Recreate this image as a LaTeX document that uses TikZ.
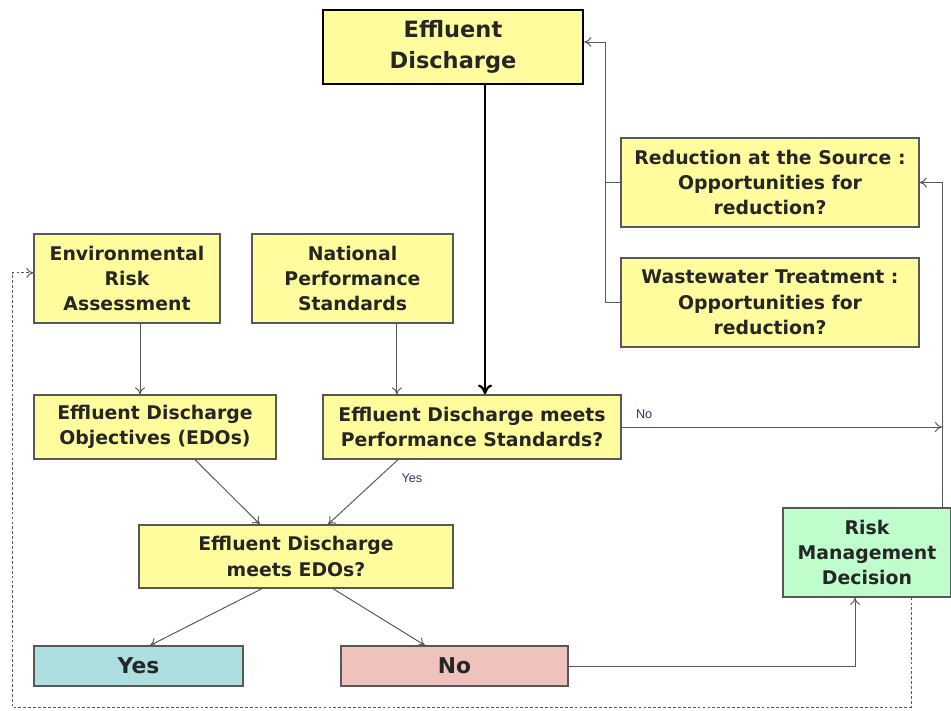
\documentclass[tikz,border=0pt]{standalone}
\usepackage{fontspec}
\setmainfont{DejaVu Sans}
\newfontfamily\lblfont{Liberation Sans}
\usetikzlibrary{arrows.meta}

\definecolor{boxyellow}{HTML}{FFFC9E}
\definecolor{boxcyan}{HTML}{ADDFE1}
\definecolor{boxpink}{HTML}{F0C2BD}
\definecolor{boxgreen}{HTML}{BFFDCD}
\definecolor{linegray}{HTML}{585858}
\definecolor{lblblue}{HTML}{33336A}

\tikzset{
  box/.style={draw=linegray, line width=0.9pt, fill=boxyellow, align=center,
    inner sep=0pt, text=black!85, font=\fontsize{13.4}{18}\selectfont\bfseries},
  conn/.style={draw=linegray, line width=0.7pt, -{To[length=5pt,width=7pt]}},
  lbl/.style={font=\lblfont\fontsize{9}{10}\selectfont, text=lblblue}
}

\begin{document}
\begin{tikzpicture}[x=0.025cm,y=-0.025cm]
    \useasboundingbox (0,0) rectangle (951,710);
    % Boxes
    \node[box, draw=black, line width=1.8pt, minimum width=6.5cm, minimum height=1.85cm,
      font=\fontsize{16}{22}\selectfont\bfseries] (dis) at (453,47) {Effluent\\Discharge};
    \node[box, minimum width=7.45cm, minimum height=2.225cm] (src) at (770,182.5)
      {Reduction at the Source :\\Opportunities for\\reduction?};
    \node[box, minimum width=7.45cm, minimum height=2.225cm] (wwt) at (770,302.5)
      {Wastewater Treatment :\\Opportunities for\\reduction?};
    \node[box, minimum width=4.65cm, minimum height=2.225cm] (era) at (127,278.5)
      {Environmental\\Risk\\Assessment};
    \node[box, minimum width=5.025cm, minimum height=2.225cm] (nps) at (352.5,278.5)
      {National\\Performance\\Standards};
    \node[box, minimum width=6.05cm, minimum height=1.6cm] (edo) at (155,427)
      {Effluent Discharge\\Objectives (EDOs)};
    \node[box, minimum width=7.45cm, minimum height=1.6cm] (mps) at (472,427)
      {Effluent Discharge meets\\Performance Standards?};
    \node[box, minimum width=7.85cm, minimum height=1.575cm] (medo) at (296,556.5)
      {Effluent Discharge\\meets EDOs?};
    \node[box, fill=boxcyan, minimum width=5.225cm, minimum height=1cm,
      font=\fontsize{15.5}{18}\selectfont\bfseries] (yes) at (138.5,666) {Yes};
    \node[box, fill=boxpink, minimum width=5.675cm, minimum height=1cm,
      font=\fontsize{15.5}{18}\selectfont\bfseries] (no) at (454.5,666) {No};
    \node[box, fill=boxgreen, minimum width=4.2cm, minimum height=2.225cm] (rmd) at (867,552.5)
      {Risk\\Management\\Decision};
    % Junctions
    \coordinate (rj) at ([xshift=1.875cm]rmd.north);
    \coordinate (lj) at (605,302.5);
    \coordinate (fbout) at ([xshift=1.1cm]rmd.south);
    \coordinate (fbcorner) at (12,707);
    % Connectors
    \draw[draw=black, line width=1.6pt, -{To[length=7pt,width=10pt]}] ([xshift=0.8cm]dis.south) -- ([xshift=0.8cm]dis.south |- mps.north);
    \draw[conn] ([xshift=0.325cm]era.south) -- ([xshift=0.325cm]era.south |- edo.north);
    \draw[conn] ([xshift=1.11cm]nps.south) -- ([xshift=1.11cm]nps.south |- mps.north);
    \draw[conn] ([xshift=1cm]edo.south) -- ([xshift=-0.9cm]medo.north);
    \draw[conn] ([xshift=-1.85cm]mps.south) -- ([xshift=0.8cm]medo.north)
      node[lbl, pos=0.28, anchor=west, xshift=0.45cm] (ylbl) {Yes};
    \draw[conn] ([xshift=-0.85cm]medo.south) -- ([xshift=0.29cm]yes.north);
    \draw[conn] ([xshift=0.925cm]medo.south) -- ([xshift=-0.74cm]no.north);
    \draw[conn] (no.east) -| ([xshift=-0.3cm]rmd.south);
    \draw[conn] (mps.east) -- (mps.east -| rj)
      node[lbl, pos=0.07, above=2pt] (nlbl) {No};
    \draw[conn] (rj) |- (src.east);
    \draw[conn] (wwt.west) -- (lj) |- ([yshift=0.125cm]dis.east);
    \draw[draw=linegray, line width=0.7pt] (src.west) -- (src.west -| lj);
    % Feedback
    \draw[conn, dash pattern=on 2pt off 1.5pt] (fbout) |- (fbcorner) |- ([yshift=0.14cm]era.west);
\end{tikzpicture}
\end{document}
